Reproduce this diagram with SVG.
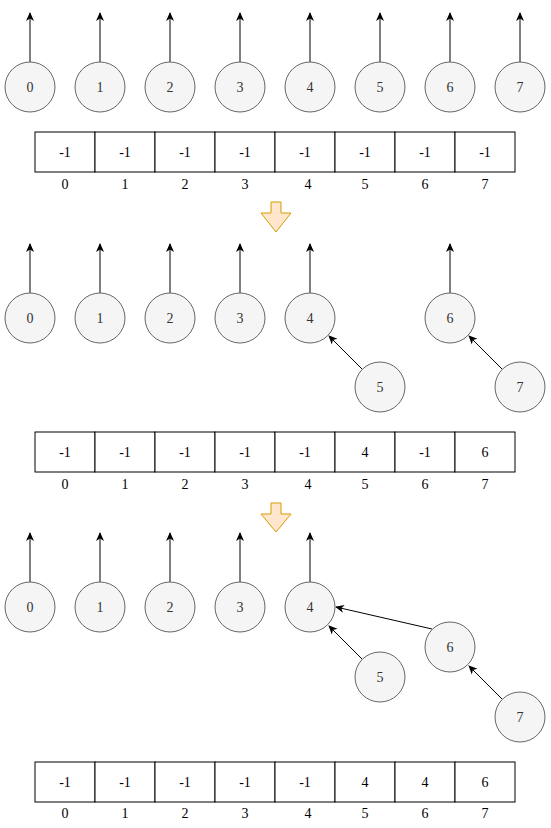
<svg xmlns="http://www.w3.org/2000/svg" width="551" height="828" viewBox="0 0 551 828">
<style>
.n circle{fill:#f5f5f5;stroke:#666;stroke-width:1}
.n text{font-family:"Liberation Serif",serif;font-size:14px;fill:#333;text-anchor:middle;dominant-baseline:central}
.c line{stroke:#000;stroke-width:1}
.t rect{fill:#fff;stroke:#000;stroke-width:1}
.t text{font-family:"Liberation Serif",serif;font-size:14px;fill:#000;text-anchor:middle;dominant-baseline:central}
.a{fill:#ffe6cc;stroke:#d79b00;stroke-width:1}
</style>
<defs>
<marker id="ah" markerWidth="10" markerHeight="10" refX="8" refY="5" orient="auto" markerUnits="userSpaceOnUse">
<path d="M0,1 L9,5 L0,9 L2.5,5 Z" fill="#000"/>
</marker>
</defs>

<!-- Stage 1 -->
<g class="c">
<line x1="30" y1="62" x2="30" y2="13" marker-end="url(#ah)"/>
<line x1="100" y1="62" x2="100" y2="13" marker-end="url(#ah)"/>
<line x1="170" y1="62" x2="170" y2="13" marker-end="url(#ah)"/>
<line x1="240" y1="62" x2="240" y2="13" marker-end="url(#ah)"/>
<line x1="310" y1="62" x2="310" y2="13" marker-end="url(#ah)"/>
<line x1="380" y1="62" x2="380" y2="13" marker-end="url(#ah)"/>
<line x1="450" y1="62" x2="450" y2="13" marker-end="url(#ah)"/>
<line x1="520" y1="62" x2="520" y2="13" marker-end="url(#ah)"/>
</g>
<g id="s1n0" class="n"><circle cx="30" cy="87" r="25"/><text x="30" y="87">0</text></g>
<g id="s1n1" class="n"><circle cx="100" cy="87" r="25"/><text x="100" y="87">1</text></g>
<g id="s1n2" class="n"><circle cx="170" cy="87" r="25"/><text x="170" y="87">2</text></g>
<g id="s1n3" class="n"><circle cx="240" cy="87" r="25"/><text x="240" y="87">3</text></g>
<g id="s1n4" class="n"><circle cx="310" cy="87" r="25"/><text x="310" y="87">4</text></g>
<g id="s1n5" class="n"><circle cx="380" cy="87" r="25"/><text x="380" y="87">5</text></g>
<g id="s1n6" class="n"><circle cx="450" cy="87" r="25"/><text x="450" y="87">6</text></g>
<g id="s1n7" class="n"><circle cx="520" cy="87" r="25"/><text x="520" y="87">7</text></g>
<g id="table1" class="t">
<rect x="35" y="132" width="60" height="40"/><rect x="95" y="132" width="60" height="40"/><rect x="155" y="132" width="60" height="40"/><rect x="215" y="132" width="60" height="40"/><rect x="275" y="132" width="60" height="40"/><rect x="335" y="132" width="60" height="40"/><rect x="395" y="132" width="60" height="40"/><rect x="455" y="132" width="60" height="40"/>
<text x="65" y="152">-1</text><text x="125" y="152">-1</text><text x="185" y="152">-1</text><text x="245" y="152">-1</text><text x="305" y="152">-1</text><text x="365" y="152">-1</text><text x="425" y="152">-1</text><text x="485" y="152">-1</text>
<text x="65" y="184">0</text><text x="125" y="184">1</text><text x="185" y="184">2</text><text x="245" y="184">3</text><text x="308" y="184">4</text><text x="365" y="184">5</text><text x="425" y="184">6</text><text x="485" y="184">7</text>
</g>
<g id="arrow1"><path class="a" d="M271,202 L281,202 L281,213 L291,213 L276,232 L261,213 L271,213 Z"/></g>

<!-- Stage 2 -->
<g class="c">
<line x1="30" y1="293" x2="30" y2="244" marker-end="url(#ah)"/>
<line x1="100" y1="293" x2="100" y2="244" marker-end="url(#ah)"/>
<line x1="170" y1="293" x2="170" y2="244" marker-end="url(#ah)"/>
<line x1="240" y1="293" x2="240" y2="244" marker-end="url(#ah)"/>
<line x1="310" y1="293" x2="310" y2="244" marker-end="url(#ah)"/>
<line x1="450" y1="293" x2="450" y2="244" marker-end="url(#ah)"/>
<line x1="362" y1="369" x2="329" y2="336" stroke-width="0.8" marker-end="url(#ah)"/>
<line x1="502" y1="369" x2="469" y2="336" stroke-width="0.8" marker-end="url(#ah)"/>
</g>
<g id="s2n0" class="n"><circle cx="30" cy="318" r="25"/><text x="30" y="318">0</text></g>
<g id="s2n1" class="n"><circle cx="100" cy="318" r="25"/><text x="100" y="318">1</text></g>
<g id="s2n2" class="n"><circle cx="170" cy="318" r="25"/><text x="170" y="318">2</text></g>
<g id="s2n3" class="n"><circle cx="240" cy="318" r="25"/><text x="240" y="318">3</text></g>
<g id="s2n4" class="n"><circle cx="310" cy="318" r="25"/><text x="310" y="318">4</text></g>
<g id="s2n5" class="n"><circle cx="380" cy="387" r="25"/><text x="380" y="387">5</text></g>
<g id="s2n6" class="n"><circle cx="450" cy="318" r="25"/><text x="450" y="318">6</text></g>
<g id="s2n7" class="n"><circle cx="520" cy="387" r="25"/><text x="520" y="387">7</text></g>
<g id="table2" class="t">
<rect x="35" y="432" width="60" height="40"/><rect x="95" y="432" width="60" height="40"/><rect x="155" y="432" width="60" height="40"/><rect x="215" y="432" width="60" height="40"/><rect x="275" y="432" width="60" height="40"/><rect x="335" y="432" width="60" height="40"/><rect x="395" y="432" width="60" height="40"/><rect x="455" y="432" width="60" height="40"/>
<text x="65" y="452">-1</text><text x="125" y="452">-1</text><text x="185" y="452">-1</text><text x="245" y="452">-1</text><text x="305" y="452">-1</text><text x="365" y="452">4</text><text x="425" y="452">-1</text><text x="485" y="452">6</text>
<text x="65" y="484">0</text><text x="125" y="484">1</text><text x="185" y="484">2</text><text x="245" y="484">3</text><text x="308" y="484">4</text><text x="365" y="484">5</text><text x="425" y="484">6</text><text x="485" y="484">7</text>
</g>
<g id="arrow2"><path class="a" d="M271,503 L281,503 L281,514 L291,514 L276,532 L261,514 L271,514 Z"/></g>

<!-- Stage 3 -->
<g class="c">
<line x1="30" y1="582" x2="30" y2="533" marker-end="url(#ah)"/>
<line x1="100" y1="582" x2="100" y2="533" marker-end="url(#ah)"/>
<line x1="170" y1="582" x2="170" y2="533" marker-end="url(#ah)"/>
<line x1="240" y1="582" x2="240" y2="533" marker-end="url(#ah)"/>
<line x1="310" y1="582" x2="310" y2="533" marker-end="url(#ah)"/>
<line x1="362" y1="659" x2="329" y2="626" stroke-width="0.8" marker-end="url(#ah)"/>
<line x1="432" y1="629" x2="336" y2="607" marker-end="url(#ah)"/>
<line x1="502" y1="699" x2="469" y2="666" stroke-width="0.8" marker-end="url(#ah)"/>
</g>
<g id="s3n0" class="n"><circle cx="30" cy="607" r="25"/><text x="30" y="607">0</text></g>
<g id="s3n1" class="n"><circle cx="100" cy="607" r="25"/><text x="100" y="607">1</text></g>
<g id="s3n2" class="n"><circle cx="170" cy="607" r="25"/><text x="170" y="607">2</text></g>
<g id="s3n3" class="n"><circle cx="240" cy="607" r="25"/><text x="240" y="607">3</text></g>
<g id="s3n4" class="n"><circle cx="310" cy="607" r="25"/><text x="310" y="607">4</text></g>
<g id="s3n5" class="n"><circle cx="380" cy="677" r="25"/><text x="380" y="677">5</text></g>
<g id="s3n6" class="n"><circle cx="450" cy="647" r="25"/><text x="450" y="647">6</text></g>
<g id="s3n7" class="n"><circle cx="520" cy="717" r="25"/><text x="520" y="717">7</text></g>
<g id="table3" class="t">
<rect x="35" y="762" width="60" height="40"/><rect x="95" y="762" width="60" height="40"/><rect x="155" y="762" width="60" height="40"/><rect x="215" y="762" width="60" height="40"/><rect x="275" y="762" width="60" height="40"/><rect x="335" y="762" width="60" height="40"/><rect x="395" y="762" width="60" height="40"/><rect x="455" y="762" width="60" height="40"/>
<text x="65" y="782">-1</text><text x="125" y="782">-1</text><text x="185" y="782">-1</text><text x="245" y="782">-1</text><text x="305" y="782">-1</text><text x="365" y="782">4</text><text x="425" y="782">4</text><text x="485" y="782">6</text>
<text x="65" y="813">0</text><text x="125" y="813">1</text><text x="185" y="813">2</text><text x="245" y="813">3</text><text x="308" y="813">4</text><text x="365" y="813">5</text><text x="425" y="813">6</text><text x="485" y="813">7</text>
</g>
</svg>
